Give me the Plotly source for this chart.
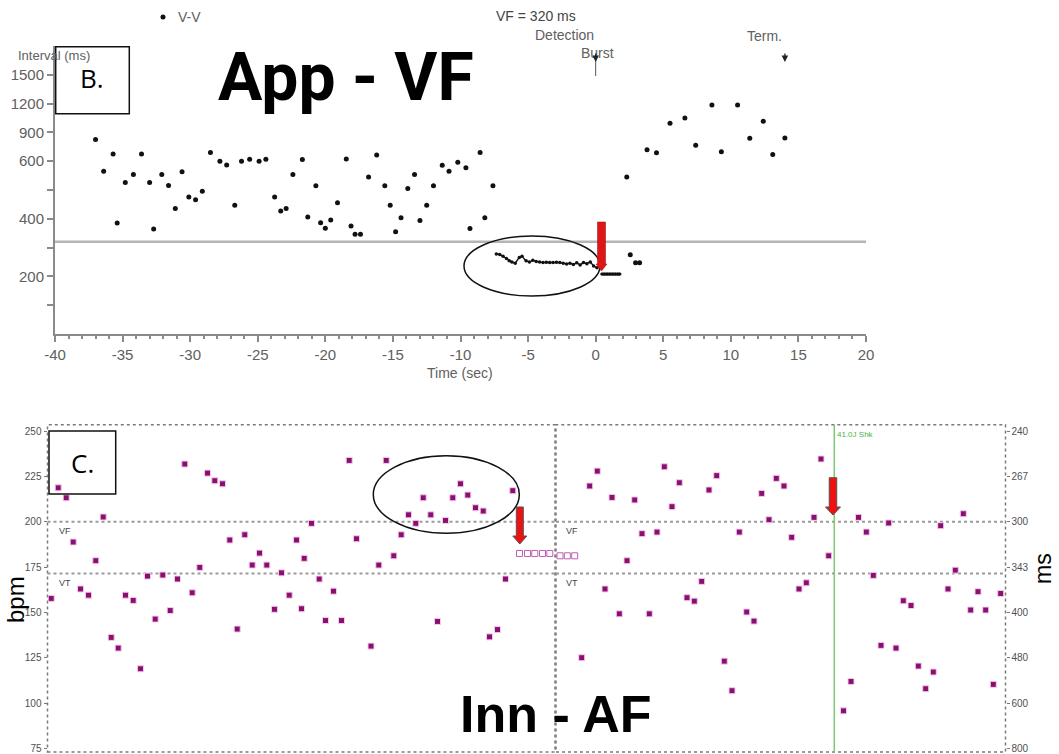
import numpy as np
import plotly.graph_objects as go

# ---------------- data ----------------
# Panel B: V-V intervals (ms) against time (s) relative to burst delivery
vv_time_pre = [-37.0, -36.4, -35.7, -35.4, -34.8, -34.2, -33.6, -33.0, -32.7, -32.1,
               -31.6, -31.1, -30.6, -30.1, -29.6, -29.1, -28.5, -27.8, -27.3, -26.7,
               -26.2, -25.6, -24.9, -24.4, -23.75, -23.3, -22.9, -22.4, -21.7, -21.3,
               -20.7, -20.35, -20.0, -19.6, -19.1, -18.45, -18.1, -17.8, -17.4, -16.8,
               -16.2, -15.6, -15.2, -14.8, -14.4, -13.9, -13.4, -13.0, -12.5, -12.0,
               -11.35, -10.85, -10.2, -9.6, -9.3, -8.55, -8.2, -7.6]
vv_ms_pre = [825, 565, 675, 385, 526, 554, 675, 526, 365, 554,
             516, 436, 563, 476, 466, 496, 690, 600, 587, 447,
             600, 620, 600, 620, 476, 427, 436, 554, 617, 406,
             515, 386, 367, 396, 456, 624, 375, 346, 346, 545,
             665, 515, 447, 355, 404, 505, 554, 394, 447, 515,
             586, 565, 596, 577, 366, 690, 404, 515]

# detected VF episode
vf_time = [-7.35, -7.1, -6.85, -6.6, -6.4, -6.2, -5.95, -5.65, -5.45, -5.15,
           -4.9, -4.65, -4.4, -4.15, -3.9, -3.65, -3.4, -3.15, -2.9, -2.65,
           -2.4, -2.15, -1.9, -1.65, -1.4, -1.15, -0.9, -0.65, -0.4, -0.15, 0.1]
vf_ms = [278, 276, 270, 262, 254, 250, 246, 266, 270, 254,
         250, 256, 252, 250, 248, 249, 248, 248, 249, 248,
         246, 243, 246, 241, 247, 240, 248, 244, 250, 236, 230]

# burst pacing
burst_time = [0.45, 0.65, 0.85, 1.05, 1.25, 1.45, 1.65, 1.8]
burst_ms = [208, 208, 208, 208, 208, 208, 208, 208]

# after termination
vv_time_post = [2.3, 2.56, 2.95, 3.25, 3.8, 4.5, 5.5, 6.6, 7.4, 8.6,
                9.3, 10.5, 11.4, 12.4, 13.1, 14.0]
vv_ms_post = [545, 275, 247, 247, 720, 689, 996, 1050, 767, 1186,
              698, 1186, 838, 1016, 669, 842]

vf_zone_ms = 320
burst_t = 0.0
term_t = 14.0

interval_ticks = [100, 200, 300, 400, 500, 600, 900, 1200, 1500]
interval_labels = ["", "200", "", "400", "", "600", "900", "1200", "1500"]
time_ticks = [-40, -35, -30, -25, -20, -15, -10, -5, 0, 5, 10, 15, 20]
time_labels = [str(t) for t in time_ticks]

# Panel C: beat-to-beat rate (bpm); left and right strips
left_t = [0.37, 1.07, 1.87, 2.57, 3.3, 4.1, 4.83, 5.57, 6.37, 7.07,
          7.8, 8.57, 9.3, 10.0, 10.77, 11.53, 12.27, 13.0, 13.73, 14.47,
          15.23, 16.0, 16.73, 17.5, 18.23, 18.97, 19.73, 20.47, 21.2, 21.93,
          22.7, 23.4, 24.17, 24.9, 25.4, 25.67, 26.4, 27.17, 27.8, 28.6,
          29.4, 30.17, 30.9, 32.35, 33.13, 33.87, 34.63, 35.37, 36.1, 36.83,
          37.57, 38.33, 39.0, 39.8, 40.53, 41.3, 42.03, 42.8, 43.57, 44.2,
          45.0, 45.8, 46.53]
left_bpm = [157.7, 218.7, 213.2, 188.8, 162.9, 159.5, 178.5, 202.6, 136.2, 130.3,
            159.5, 156.6, 118.9, 170.0, 146.3, 170.6, 151.0, 168.4, 231.8, 160.8,
            174.8, 226.8, 222.6, 220.9, 189.9, 140.8, 192.8, 176.1, 182.7, 176.1,
            151.7, 171.8, 159.5, 189.9, 152.0, 179.8, 199.1, 168.4, 145.5, 161.7,
            145.5, 233.8, 190.6, 131.4, 176.1, 233.8, 181.2, 192.8, 203.8, 199.1,
            213.2, 203.8, 145.0, 200.7, 213.2, 220.9, 214.7, 207.7, 205.9, 136.5,
            140.5, 168.4, 217.1]
left_paced_t = [47.2, 48.0, 48.73, 49.5, 50.23]
left_paced_bpm = [182.5, 182.5, 182.5, 182.5, 182.5]

right_paced_t = [0.4, 1.13, 1.87]
right_paced_bpm = [181.2, 181.2, 181.2]
right_t = [2.57, 3.37, 4.13, 4.9, 5.6, 6.33, 7.1, 7.87, 8.6, 9.33,
           10.1, 10.83, 11.6, 12.33, 13.1, 13.83, 14.57, 15.3, 16.07, 16.83,
           17.6, 18.33, 19.07, 19.8, 20.57, 21.3, 22.03, 22.8, 23.57, 24.3,
           25.03, 25.8, 26.5, 27.27, 28.75, 29.5, 30.25, 31.03, 31.73, 32.5,
           33.27, 34.0, 34.73, 35.5, 36.23, 36.97, 37.73, 38.47, 39.2, 39.93,
           40.73, 41.47, 42.2, 42.97, 43.73, 44.47]
right_bpm = [125.0, 219.7, 227.9, 162.9, 213.4, 149.2, 178.5, 212.0, 193.4, 149.2,
             194.3, 230.3, 208.3, 221.5, 158.1, 156.2, 167.1, 217.5, 225.4, 123.1,
             106.8, 194.3, 150.2, 145.2, 215.6, 201.1, 223.9, 219.7, 191.4, 162.9,
             166.3, 202.4, 234.6, 181.2, 95.7, 111.9, 202.4, 194.3, 170.4, 131.8,
             199.3, 130.3, 156.4, 153.8, 120.4, 107.9, 117.1, 197.8, 162.9, 173.3,
             204.4, 151.3, 161.4, 151.3, 110.3, 160.4]

shock_t = 27.83
vf_zone_bpm = 200.0
vt_zone_bpm = 171.4
rate_ticks = [250, 225, 200, 175, 150, 125, 100, 75]
rate_labels = ["250", "225", "200", "175", "150", "125", "100", "75"]
cycle_labels = ["240", "267", "300", "343", "400", "480", "600", "800"]

# ---------------- helpers ----------------
W, H = 1059, 754


def fx(p):
    return p / W


def fy(p):
    return 1 - p / H


def interval_axis(ms):
    """Interval scale: linear up to 600 ms, compressed 3:1 above."""
    ms = np.asarray(ms, dtype=float)
    return np.where(ms <= 600, ms, 600 + (ms - 600) / 3.0)


def arrow_path(xc, ytop, ybot, shaft_w, head_w, head_h):
    xs = [xc - shaft_w / 2, xc + shaft_w / 2, xc + shaft_w / 2, xc + head_w / 2,
          xc, xc - head_w / 2, xc - shaft_w / 2]
    ys = [ytop, ytop, ybot - head_h, ybot - head_h, ybot, ybot - head_h, ybot - head_h]
    pts = [f"{fx(a):.5f},{fy(b):.5f}" for a, b in zip(xs, ys)]
    return "M " + " L ".join(pts) + " Z"


AXIS_GREY = "#8a8a8a"
TEXT_GREY = "#606060"
PURPLE = "#8b0f73"

fig = go.Figure()

# ---------------- panel B traces ----------------
dot = dict(color="#111111", size=5, symbol="circle")
fig.add_trace(go.Scatter(x=vv_time_pre, y=interval_axis(vv_ms_pre), mode="markers",
                         marker=dot, xaxis="x", yaxis="y", name="V-V"))
fig.add_trace(go.Scatter(x=vf_time, y=interval_axis(vf_ms), mode="markers+lines",
                         line=dict(color="#111111", width=1.4),
                         marker=dict(color="#111111", size=3.5), xaxis="x", yaxis="y"))
fig.add_trace(go.Scatter(x=burst_time, y=interval_axis(burst_ms), mode="markers+lines",
                         line=dict(color="#111111", width=3),
                         marker=dict(color="#111111", size=3), xaxis="x", yaxis="y"))
fig.add_trace(go.Scatter(x=vv_time_post, y=interval_axis(vv_ms_post), mode="markers",
                         marker=dot, xaxis="x", yaxis="y"))

# ---------------- panel C traces ----------------
sq = dict(color=PURPLE, size=6, symbol="square", line=dict(color="#f2cdea", width=1))
sq_open = dict(color="#c25cb2", size=6, symbol="square-open", line=dict(width=1))
fig.add_trace(go.Scatter(x=left_t, y=left_bpm, mode="markers", marker=sq,
                         xaxis="x2", yaxis="y2"))
fig.add_trace(go.Scatter(x=left_paced_t, y=left_paced_bpm, mode="markers", marker=sq_open,
                         xaxis="x2", yaxis="y2"))
fig.add_trace(go.Scatter(x=right_t, y=right_bpm, mode="markers", marker=sq,
                         xaxis="x3", yaxis="y3"))
fig.add_trace(go.Scatter(x=right_paced_t, y=right_paced_bpm, mode="markers", marker=sq_open,
                         xaxis="x3", yaxis="y3"))

# ---------------- axes ----------------
tick_font_b = dict(family="Liberation Sans, Arial", size=15, color=TEXT_GREY)
tick_font_c = dict(family="Liberation Sans, Arial", size=10, color="#505050")

layout = dict(
    width=W, height=H,
    margin=dict(l=0, r=0, t=0, b=0),
    paper_bgcolor="white", plot_bgcolor="rgba(0,0,0,0)",
    showlegend=False,
    xaxis=dict(domain=[fx(55), fx(866)], range=[-40, 20], tickvals=time_ticks,
               ticktext=time_labels,
               showline=True, linecolor=AXIS_GREY, linewidth=2, ticks="outside",
               ticklen=6, tickcolor=AXIS_GREY, tickwidth=1.5, showgrid=False, zeroline=False,
               tickfont=tick_font_b, anchor="y", automargin=False,
               minor=dict(dtick=1, ticks="outside", ticklen=3, tickcolor=AXIS_GREY)),
    yaxis=dict(domain=[fy(334), fy(46)], range=[0, 1000],
               tickvals=list(interval_axis(interval_ticks)), ticktext=interval_labels,
               showline=True, linecolor=AXIS_GREY, linewidth=2, ticks="outside",
               ticklen=6, tickcolor=AXIS_GREY, tickwidth=1.5, showgrid=False, zeroline=False,
               tickfont=tick_font_b, anchor="x", automargin=False),
    xaxis2=dict(domain=[fx(47.5), fx(555)], range=[0, 50.75], showticklabels=False,
                showgrid=False, zeroline=False, showline=False, anchor="y2"),
    yaxis2=dict(domain=[fy(752), fy(424.7)], range=[73, 253.5], tickvals=rate_ticks,
                ticktext=rate_labels, showgrid=False, zeroline=False, showline=False,
                ticks="outside", ticklen=3, tickcolor="#777777", tickfont=tick_font_c,
                anchor="x2", automargin=False),
    xaxis3=dict(domain=[fx(556), fx(1005.5)], range=[0, 44.95], showticklabels=False,
                showgrid=False, zeroline=False, showline=False, anchor="y3"),
    yaxis3=dict(domain=[fy(752), fy(424.7)], range=[73, 253.5], tickvals=rate_ticks,
                ticktext=cycle_labels, side="right", showgrid=False, zeroline=False,
                showline=False, ticks="outside", ticklen=3, tickcolor="#777777",
                tickfont=tick_font_c, anchor="x3", automargin=False),
)
fig.update_layout(**layout)

shapes = []
ann = []

# ---------------- panel B decorations ----------------
# VF detection zone
shapes.append(dict(type="line", xref="x domain", yref="y", x0=0, x1=1,
                   y0=float(interval_axis(vf_zone_ms)), y1=float(interval_axis(vf_zone_ms)),
                   line=dict(color="#b4b4b4", width=2.5), layer="below"))
# legend marker
shapes.append(dict(type="circle", xref="paper", yref="paper",
                   x0=fx(160.5), x1=fx(165.5), y0=fy(19.5), y1=fy(14.5),
                   fillcolor="#111111", line=dict(width=0)))
ann.append(dict(text="V-V", x=fx(176), y=fy(17), xref="paper", yref="paper",
                xanchor="left", yanchor="middle", showarrow=False,
                font=dict(family="Liberation Sans, Arial", size=14, color=TEXT_GREY)))
ann.append(dict(text="Interval (ms)", x=fx(16), y=fy(55), xref="paper", yref="paper",
                xanchor="left", yanchor="middle", showarrow=False,
                font=dict(family="Liberation Sans, Arial", size=13, color=TEXT_GREY)))
ann.append(dict(text="Time (sec)", x=fx(460), y=fy(373), xref="paper", yref="paper",
                xanchor="center", yanchor="middle", showarrow=False,
                font=dict(family="Liberation Sans, Arial", size=14, color=TEXT_GREY)))
ann.append(dict(text="VF = 320 ms", x=fx(494), y=fy(16), xref="paper", yref="paper",
                xanchor="left", yanchor="middle", showarrow=False,
                font=dict(family="Liberation Sans, Arial", size=14, color="#444444")))
ann.append(dict(text="Detection", x=fx(533), y=fy(35), xref="paper", yref="paper",
                xanchor="left", yanchor="middle", showarrow=False,
                font=dict(family="Liberation Sans, Arial", size=14, color=TEXT_GREY)))
ann.append(dict(text="Burst", x=fx(579), y=fy(53), xref="paper", yref="paper",
                xanchor="left", yanchor="middle", showarrow=False,
                font=dict(family="Liberation Sans, Arial", size=14, color=TEXT_GREY)))
ann.append(dict(text="Term.", x=fx(745), y=fy(36), xref="paper", yref="paper",
                xanchor="left", yanchor="middle", showarrow=False,
                font=dict(family="Liberation Sans, Arial", size=14, color=TEXT_GREY)))
# event markers (burst and termination)
for t_evt in (burst_t, term_t):
    ann.append(dict(text="", x=t_evt, y=fy(62), xref="x", yref="paper",
                    showarrow=True, ax=0, ay=-10, arrowhead=2, arrowsize=1,
                    arrowwidth=1.3, arrowcolor="#222222"))
shapes.append(dict(type="line", xref="x", yref="paper", x0=burst_t, x1=burst_t,
                   y0=fy(60), y1=fy(76), line=dict(color="#555555", width=1)))
ann.append(dict(text="App - VF", x=fx(346), y=fy(77), xref="paper", yref="paper",
                xanchor="center", yanchor="middle", showarrow=False,
                font=dict(family="Roboto, Liberation Sans", size=66, color="#000000",
                          weight="bold")))
# "B." box
shapes.append(dict(type="rect", xref="paper", yref="paper",
                   x0=fx(55.7), x1=fx(129.3), y0=fy(113.7), y1=fy(46.7),
                   line=dict(color="#111111", width=1.5)))
ann.append(dict(text="B.", x=fx(92), y=fy(78), xref="paper", yref="paper",
                xanchor="center", yanchor="middle", showarrow=False,
                font=dict(family="Open Sans, Liberation Sans", size=26, color="#000000")))
# highlighted VF run and red marker
shapes.append(dict(type="circle", xref="paper", yref="paper",
                   x0=fx(464), x1=fx(600), y0=fy(296), y1=fy(236),
                   line=dict(color="#111111", width=1.5)))
shapes.append(dict(type="path", xref="paper", yref="paper",
                   path=arrow_path(601.5, 222, 271, 8, 11, 7),
                   fillcolor="#e01515", line=dict(color="#8a1010", width=0.5)))

# ---------------- panel C decorations ----------------
for xr, yr in (("x2", "y2"), ("x3", "y3")):
    shapes.append(dict(type="rect", xref=f"{xr} domain", yref=f"{yr} domain",
                       x0=0, x1=1, y0=0, y1=1, layer="below",
                       line=dict(color="#7a7a7a", width=1.5, dash="dot")))
    for lvl in (vf_zone_bpm, vt_zone_bpm):
        shapes.append(dict(type="line", xref=f"{xr} domain", yref=yr, x0=0, x1=1,
                           y0=lvl, y1=lvl, layer="below",
                           line=dict(color="#9a9a9a", width=2, dash="dot")))
    ann.append(dict(text="VF", x=0.018, y=vf_zone_bpm - 1.5, xref=f"{xr} domain", yref=yr,
                    xanchor="left", yanchor="top", showarrow=False,
                    font=dict(family="Liberation Sans, Arial", size=9, color="#444444")))
    ann.append(dict(text="VT", x=0.018, y=vt_zone_bpm - 1.5, xref=f"{xr} domain", yref=yr,
                    xanchor="left", yanchor="top", showarrow=False,
                    font=dict(family="Liberation Sans, Arial", size=9, color="#444444")))

# shock marker
shapes.append(dict(type="line", xref="x3", yref="y3 domain", x0=shock_t, x1=shock_t,
                   y0=0, y1=1, line=dict(color="#7cc870", width=1.5)))
ann.append(dict(text="41.0J Shk", x=shock_t, y=1, xref="x3", yref="y3 domain",
                xanchor="left", yanchor="top", xshift=1, yshift=-3, showarrow=False,
                font=dict(family="Liberation Sans, Arial", size=8, color="#4cb04c")))

# "C." box
shapes.append(dict(type="rect", xref="paper", yref="paper",
                   x0=fx(49), x1=fx(115.7), y0=fy(494), y1=fy(431),
                   line=dict(color="#111111", width=1.5)))
ann.append(dict(text="C.", x=fx(82), y=fy(463), xref="paper", yref="paper",
                xanchor="center", yanchor="middle", showarrow=False,
                font=dict(family="Open Sans, Liberation Sans", size=26, color="#000000")))
# highlighted pre-detection beats and red markers
shapes.append(dict(type="circle", xref="paper", yref="paper",
                   x0=fx(373.3), x1=fx(519.3), y0=fy(533.3), y1=fy(455.7),
                   line=dict(color="#111111", width=1.5)))
shapes.append(dict(type="path", xref="paper", yref="paper",
                   path=arrow_path(519.8, 507, 544, 7, 14, 8),
                   fillcolor="#ee1111", line=dict(color="#555555", width=1)))
shapes.append(dict(type="path", xref="paper", yref="paper",
                   path=arrow_path(833, 477.7, 515, 7.5, 15, 8),
                   fillcolor="#ee1111", line=dict(color="#555555", width=1)))

ann.append(dict(text="Inn - AF", x=fx(556), y=fy(714), xref="paper", yref="paper",
                xanchor="center", yanchor="middle", showarrow=False,
                font=dict(family="Liberation Sans, Arial", size=52, color="#000000",
                          weight="bold")))
ann.append(dict(text="bpm", x=fx(15), y=fy(600), xref="paper", yref="paper",
                xanchor="center", yanchor="middle", textangle=-90, showarrow=False,
                font=dict(family="Liberation Sans, Arial", size=24, color="#000000")))
ann.append(dict(text="ms", x=fx(1043), y=fy(569), xref="paper", yref="paper",
                xanchor="center", yanchor="middle", textangle=-90, showarrow=False,
                font=dict(family="Liberation Sans, Arial", size=23, color="#000000")))

fig.update_layout(shapes=shapes, annotations=ann)
fig.write_html("out.html")
